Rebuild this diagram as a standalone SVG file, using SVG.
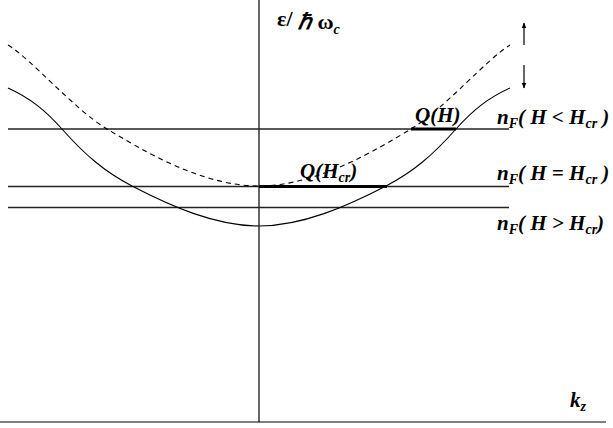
<svg xmlns="http://www.w3.org/2000/svg" width="613" height="428" viewBox="0 0 613 428">
<defs>
<style>
.ax{stroke:#000;stroke-width:1.2;fill:none}
.lv{stroke:#222;stroke-width:1.5;fill:none}
.cv{stroke:#000;stroke-width:1.1;fill:none}
.ds{stroke:#000;stroke-width:1.1;fill:none;stroke-dasharray:5,4}
.q{stroke:#000;stroke-width:3;fill:none}
.t{font-family:"Liberation Serif",serif;font-style:italic;font-weight:bold;font-size:21px;fill:#000}
.s{font-size:14px}
</style>
<marker id="ah" viewBox="0 0 10 10" refX="9" refY="5" markerWidth="6" markerHeight="6" orient="auto" markerUnits="userSpaceOnUse">
<path d="M0,1 L10,5 L0,9 Z" fill="#000"/>
</marker>
</defs>
<rect width="613" height="428" fill="#fff"/>
<g id="axes">
<line class="ax" x1="259" y1="0" x2="259" y2="422"/>
<line class="ax" x1="0" y1="422" x2="606" y2="422"/>
</g>
<g id="levels">
<line class="lv" x1="8" y1="129" x2="509" y2="129"/>
<line class="lv" x1="8" y1="186.5" x2="509" y2="186.5"/>
<line class="lv" x1="8" y1="207.5" x2="509" y2="207.5"/>
</g>
<g id="curves">
<path class="cv" d="M8,88 C30,98 45,110 62,129 C85,155 105,172 132,186 C170,205.7 215,226 259,226 C303,226 348,205.7 386,186 C413,172 433,155 456,129 C473,110 488,98 510,88"/>
<path class="ds" d="M8,45 C30,58 75,110 107,129 C140,148.6 200,186 259,186 C318,186 378,148.6 411,129 C443,110 488,58 510,45"/>
<line class="q" x1="411" y1="129" x2="456" y2="129"/>
<line class="q" x1="259" y1="186.5" x2="387" y2="186.5"/>
</g>
<g id="arrows">
<line class="ax" x1="524" y1="45" x2="524" y2="23" marker-end="url(#ah)"/>
<line class="ax" x1="524" y1="65" x2="524" y2="88" marker-end="url(#ah)"/>
</g>
<g id="labels">
<text class="t" x="277" y="29" style="font-style:normal;font-size:22px"><tspan dy="-3">ε/</tspan><tspan dy="3"> </tspan><tspan style="font-style:italic">ℏ</tspan> ω<tspan class="s" dy="5" style="font-style:italic">c</tspan></text>
<text class="t" x="415" y="122">Q(H)</text>
<text class="t" x="300" y="178">Q(H<tspan class="s" dy="4">cr</tspan><tspan dy="-4">)</tspan></text>
<text class="t" x="497" y="124">n<tspan class="s" dy="4">F</tspan><tspan dy="-4">( H &lt; H</tspan><tspan class="s" dy="4">cr</tspan><tspan dy="-4"> )</tspan></text>
<text class="t" x="497" y="180">n<tspan class="s" dy="4">F</tspan><tspan dy="-4">( H = H</tspan><tspan class="s" dy="4">cr</tspan><tspan dy="-4"> )</tspan></text>
<text class="t" x="497" y="230">n<tspan class="s" dy="4">F</tspan><tspan dy="-4">(  H &gt; H</tspan><tspan class="s" dy="4">cr</tspan><tspan dy="-4">)</tspan></text>
<text class="t" x="570" y="407">k<tspan class="s" dy="4">z</tspan></text>
</g>
</svg>
